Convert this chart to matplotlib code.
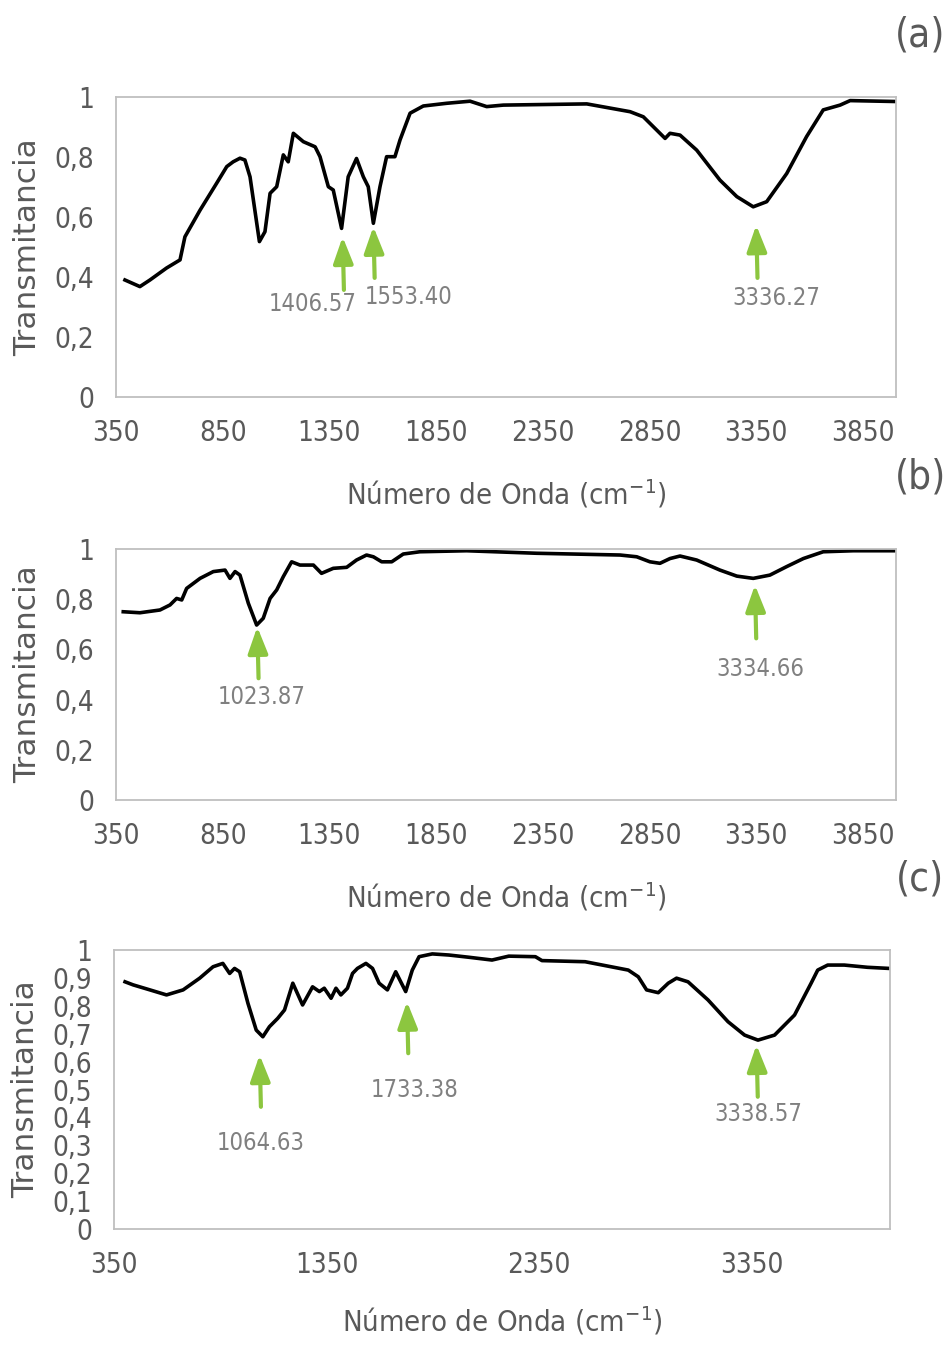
import numpy as np
import matplotlib
matplotlib.use("Agg")
import matplotlib.pyplot as plt
from matplotlib import font_manager
from matplotlib.ticker import FuncFormatter

# narrow face if one is installed, otherwise DejaVu condensed
names = {f.name for f in font_manager.fontManager.ttflist}
narrow = [n for n in ["Liberation Sans Narrow", "DejaVu Sans"] if n in names]
plt.rcParams['font.family'] = narrow + ['DejaVu Sans']
plt.rcParams['font.stretch'] = 'condensed'

# ---- spectra (wavenumber cm-1, transmittance) ----
wn_a = [392, 462, 509, 587, 650, 673, 744, 822, 869, 899,
        931, 954, 978, 1022, 1048, 1072, 1103, 1134, 1157, 1181,
        1228, 1283, 1306, 1345, 1368, 1407, 1438, 1477, 1509, 1532,
        1556, 1587, 1618, 1657, 1681, 1728, 1790, 1899, 2009, 2087,
        2165, 2556, 2759, 2821, 2923, 2946, 2993, 3071, 3180, 3259,
        3336, 3399, 3493, 3586, 3664, 3743, 3790, 4000]
t_a = [0.39, 0.368, 0.39, 0.43, 0.457, 0.534, 0.623, 0.713, 0.768, 0.784,
       0.796, 0.79, 0.734, 0.518, 0.551, 0.679, 0.701, 0.807, 0.784, 0.879,
       0.851, 0.834, 0.801, 0.701, 0.69, 0.562, 0.734, 0.795, 0.734, 0.701,
       0.579, 0.701, 0.801, 0.801, 0.857, 0.946, 0.97, 0.979, 0.986, 0.968,
       0.973, 0.977, 0.951, 0.934, 0.862, 0.879, 0.873, 0.823, 0.723, 0.668,
       0.634, 0.651, 0.745, 0.868, 0.957, 0.973, 0.988, 0.985]

wn_b = [384, 462, 556, 603, 634, 658, 681, 744, 806, 861,
        884, 908, 931, 970, 1009, 1040, 1072, 1103, 1134, 1173,
        1212, 1275, 1313, 1368, 1431, 1477, 1524, 1556, 1595, 1642,
        1696, 1774, 1993, 2321, 2712, 2790, 2852, 2899, 2946, 2993,
        3071, 3180, 3259, 3336, 3414, 3493, 3571, 3664, 3805, 4000]
t_b = [0.75, 0.746, 0.757, 0.777, 0.803, 0.797, 0.843, 0.883, 0.91, 0.916,
       0.883, 0.91, 0.896, 0.784, 0.697, 0.724, 0.803, 0.837, 0.89, 0.949,
       0.936, 0.936, 0.903, 0.923, 0.927, 0.956, 0.976, 0.969, 0.949, 0.949,
       0.98, 0.989, 0.993, 0.983, 0.976, 0.969, 0.949, 0.943, 0.962, 0.972,
       0.956, 0.916, 0.892, 0.883, 0.896, 0.93, 0.962, 0.989, 0.993, 0.993]

wn_c = [402, 440, 519, 597, 675, 753, 816, 862, 894, 917,
        941, 980, 1019, 1050, 1081, 1120, 1152, 1191, 1237, 1284,
        1316, 1339, 1371, 1394, 1417, 1448, 1472, 1495, 1535, 1566,
        1597, 1636, 1675, 1722, 1753, 1785, 1847, 1925, 2019, 2128,
        2207, 2332, 2363, 2566, 2769, 2816, 2855, 2910, 2957, 2996,
        3050, 3144, 3238, 3316, 3379, 3457, 3551, 3629, 3660, 3707,
        3785, 3894, 3995]
t_c = [0.886, 0.875, 0.857, 0.839, 0.857, 0.899, 0.94, 0.952, 0.916, 0.934,
       0.922, 0.809, 0.713, 0.689, 0.725, 0.755, 0.785, 0.881, 0.803, 0.868,
       0.851, 0.863, 0.827, 0.863, 0.839, 0.863, 0.916, 0.934, 0.952, 0.934,
       0.881, 0.857, 0.922, 0.851, 0.928, 0.976, 0.986, 0.982, 0.974, 0.964,
       0.978, 0.976, 0.962, 0.958, 0.928, 0.904, 0.857, 0.847, 0.881, 0.899,
       0.886, 0.821, 0.743, 0.695, 0.677, 0.695, 0.767, 0.881, 0.928, 0.946,
       0.946, 0.938, 0.934]

# peak labels and arrows: (label, arrow x, tip T, tail T, label x, label T)
peaks_a = [("1406.57", 1412, 0.534, 0.357, 1273, 0.31),
           ("1553.40", 1556, 0.568, 0.397, 1719, 0.333),
           ("3336.27", 3350, 0.573, 0.397, 3445, 0.33)]
peaks_b = [("1023.87", 1012, 0.69, 0.485, 1033, 0.41),
           ("3334.66", 3344, 0.857, 0.644, 3368, 0.52)]
peaks_c = [("1064.63", 1035, 0.624, 0.438, 1042, 0.307),
           ("1733.38", 1728, 0.815, 0.63, 1766, 0.498),
           ("3338.57", 3372, 0.66, 0.474, 3379, 0.411)]

xticks_ab = [350, 850, 1350, 1850, 2350, 2850, 3350, 3850]
xticks_c = [350, 1350, 2350, 3350]
yticks_ab = [0, 0.2, 0.4, 0.6, 0.8, 1.0]
yticks_c = [0, 0.1, 0.2, 0.3, 0.4, 0.5, 0.6, 0.7, 0.8, 0.9, 1.0]

W, H = 952, 1345
GREEN = "#8cc63f"
GRAY_TXT = "#595959"
GRAY_LBL = "#808080"
FRAME = "#bfbfbf"


def comma(v, pos=None):
    s = f"{v:.1f}".rstrip("0").rstrip(".")
    return s.replace(".", ",")


def make_ax(fig, left, top, right, bottom):
    return fig.add_axes([left / W, 1 - bottom / H, (right - left) / W, (bottom - top) / H])


def draw_panel(ax, wn, t, peaks, xticks, yticks, xmax, xlab_y, letter, letter_pos):
    ax.plot(wn, t, color="black", lw=2.6, solid_joinstyle="round")
    ax.set_xlim(350, xmax)
    ax.set_ylim(0, 1)
    ax.set_xticks(xticks)
    ax.set_yticks(yticks)
    ax.yaxis.set_major_formatter(FuncFormatter(comma))
    ax.tick_params(length=0, labelsize=20, colors=GRAY_TXT)
    ax.tick_params(axis="x", pad=16)
    ax.tick_params(axis="y", pad=16)
    for sp in ax.spines.values():
        sp.set_color(FRAME)
        sp.set_linewidth(1.3)
    ax.set_ylabel("Transmitancia", fontsize=22.5, color=GRAY_TXT, family="DejaVu Sans",
                  fontstretch="normal")
    ax.yaxis.set_label_coords(-0.095, 0.5)
    ax.set_xlabel("Número de Onda (cm$^{\\mathregular{-1}}$)", fontsize=21, color=GRAY_TXT, va="top")
    ax.xaxis.set_label_coords(0.5, xlab_y)

    for lab, x, tip, tail, lx, ly in peaks:
        ax.annotate("", xy=(x, tip), xytext=(x + 6, tail),
                    arrowprops=dict(arrowstyle="-|>,head_width=0.3,head_length=0.8",
                                    color=GREEN, lw=3, mutation_scale=20, shrinkA=0, shrinkB=0))
        ax.text(lx, ly, lab, fontsize=17, color=GRAY_LBL, ha="center", va="center")

    ax.figure.text(letter_pos[0] / W, 1 - letter_pos[1] / H, letter, fontsize=29,
                   color=GRAY_TXT, ha="center", va="center")


fig = plt.figure(figsize=(W / 100, H / 100), dpi=100)

ax_a = make_ax(fig, 116, 97, 896, 397)
draw_panel(ax_a, wn_a, t_a, peaks_a, xticks_ab, yticks_ab, 4005, -0.27, "(a)", (920, 35))

ax_b = make_ax(fig, 116, 549, 896, 800)
draw_panel(ax_b, wn_b, t_b, peaks_b, xticks_ab, yticks_ab, 4005, -0.32, "(b)", (920, 477))

ax_c = make_ax(fig, 114, 950, 890, 1229)
draw_panel(ax_c, wn_c, t_c, peaks_c, xticks_c, yticks_c, 4000, -0.272, "(c)", (920, 880))

fig.savefig("out.png", dpi=100)
